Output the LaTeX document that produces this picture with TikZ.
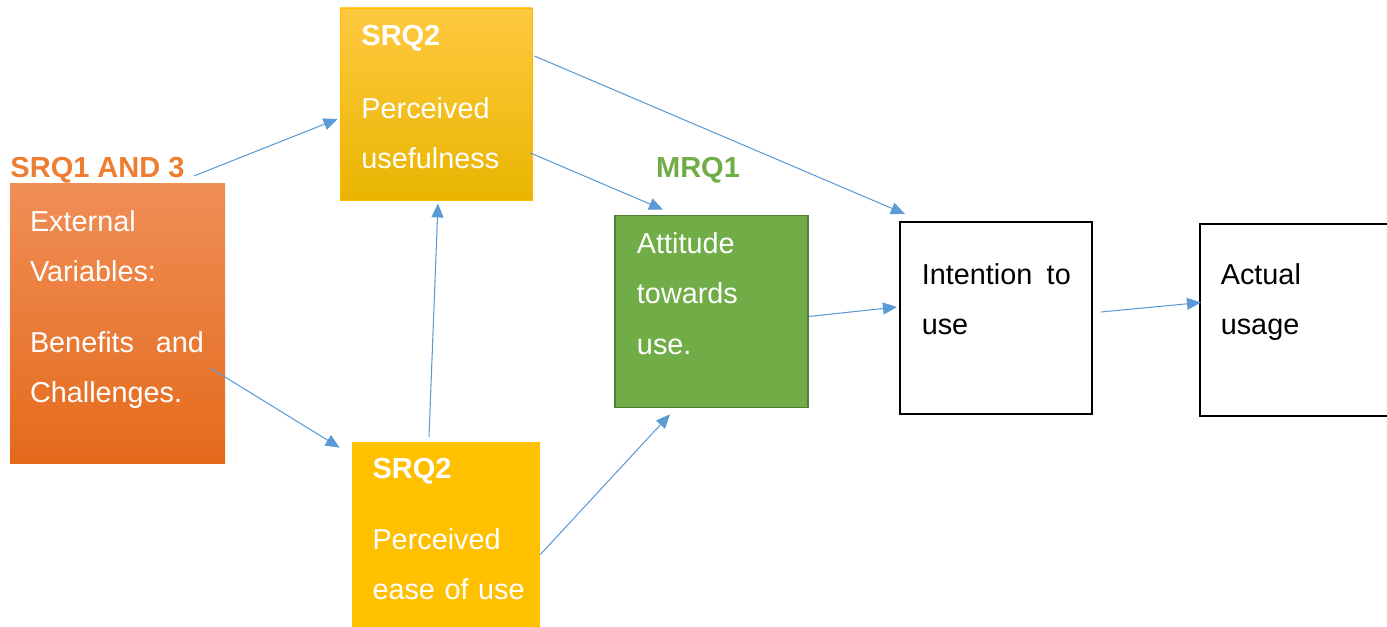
\documentclass[tikz,border=0pt]{standalone}
\usepackage{fontspec}
\setmainfont{Liberation Sans}
\usetikzlibrary{arrows.meta,positioning,calc}
\definecolor{extlight}{HTML}{F08E57}
\definecolor{extmid}{HTML}{F47B2B}
\definecolor{extdark}{HTML}{E46A1B}
\definecolor{srqlight}{HTML}{FFC940}
\definecolor{srqyellow}{HTML}{FFC000}
\definecolor{srqdark}{HTML}{E9B500}
\definecolor{attgreen}{HTML}{70AD47}
\definecolor{attborder}{HTML}{527F33}
\definecolor{tagorange}{HTML}{ED7D31}
\definecolor{linkblue}{HTML}{5B9BD5}

\begin{document}
\begin{tikzpicture}[
  >={Triangle[length=2.8mm,width=2.4mm]},
  box/.style={minimum width=3.84cm,minimum height=3.84cm,inner sep=0pt},
  txt/.style={anchor=north west,inner sep=0pt,align=left,text width=3.4cm,text=white,
    font=\fontsize{16.4}{28.5}\selectfont},
  tag/.style={inner sep=0pt,font=\bfseries\fontsize{16.5}{19}\selectfont},
  link/.style={->,draw=linkblue,line width=0.6pt}]
  \useasboundingbox (0,0) rectangle (27.74,-12.54);

  % boxes
  \node[box,minimum width=4.3cm,minimum height=5.6cm,top color=extlight,middle color=extmid,
    bottom color=extdark] (ext) at (2.35,-6.48) {};
  \node[box,top color=srqlight,middle color=srqyellow,bottom color=srqdark,
    draw=srqyellow!90!orange,line width=0.5pt] (pu) at (8.72,-2.08) {};
  \node[box,minimum width=3.76cm,minimum height=3.8cm,fill=srqyellow] (peou) at (8.92,-10.74) {};
  \node[box,minimum width=3.86cm,fill=attgreen,draw=attborder,line width=1pt] (att) at (14.23,-6.23) {};
  \node[box,draw=black,line width=1.2pt] (intent) at (19.92,-6.36) {};
  \node[box,draw=black,line width=1.2pt] (act) at (25.92,-6.40) {};

  % tags
  \node[tag,text=tagorange] (srq13) at (1.95,-3.40) {SRQ1 AND 3};
  \node[tag,text=attgreen] (mrq1) at (13.96,-3.40) {MRQ1};

  % texts
  \node[txt,text width=3.48cm] (extT) at ([shift={(0.40,-0.53)}]ext.north west)
    {External\\ Variables:\\[12pt] Benefits\hfill and\\ Challenges.};
  \node[txt] (puT) at ([shift={(0.43,-0.34)}]pu.north west)
    {{\bfseries\fontsize{16.5}{19}\selectfont SRQ2}\\[13pt] Perceived\\ usefulness};
  \node[txt] (peouT) at ([shift={(0.41,-0.33)}]peou.north west)
    {{\bfseries\fontsize{16.5}{19}\selectfont SRQ2}\\[12pt] Perceived\\ ease of use};
  \node[txt] (attT) at ([shift={(0.45,-0.36)}]att.north west)
    {Attitude\\ towards\\ use.};
  \node[txt,text=black,text width=2.98cm] (intentT) at ([shift={(0.45,-0.84)}]intent.north west)
    {Intention\hfill to\\ use};
  \node[txt,text=black] (actT) at ([shift={(0.43,-0.81)}]act.north west)
    {Actual\\ usage};

  % links
  \draw[link] ([shift={(0.18,-0.12)}]srq13.east) -- ([shift={(-0.04,-0.30)}]pu.west);
  \draw[link] ([shift={(-0.30,-0.88)}]ext.east) -- ([shift={(-0.24,-0.12)}]peou.north west);
  \draw[link] ([shift={(-0.34,0.10)}]peou.north) -- ([shift={(0.04,-0.06)}]pu.south);
  \draw[link] ([shift={(-0.04,-0.98)}]pu.east) -- ([shift={(-0.97,0.10)}]att.north);
  \draw[link] ([shift={(0.04,0.96)}]pu.east) -- ([shift={(0.12,0.14)}]intent.north west);
  \draw[link] ([shift={(0,-0.35)}]peou.east) -- ([shift={(-0.83,-0.12)}]att.south);
  \draw[link] ([shift={(0,-0.10)}]att.east) -- ([shift={(-0.04,0.22)}]intent.west);
  \draw[link] ([shift={(0.16,0.12)}]intent.east) -- ([shift={(0.04,0.35)}]act.west);
\end{tikzpicture}
\end{document}
